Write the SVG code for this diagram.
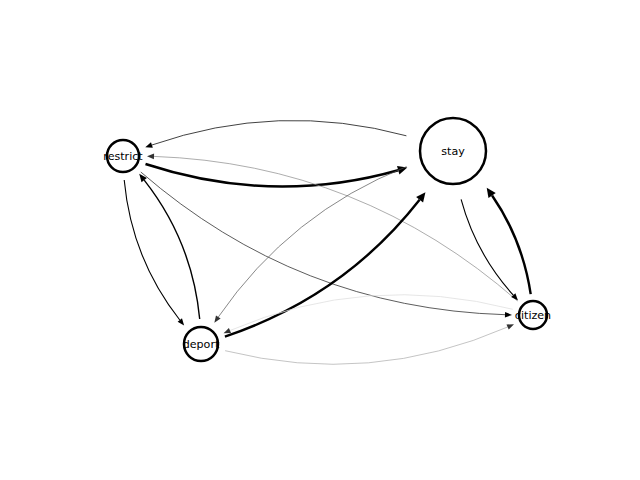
<svg xmlns="http://www.w3.org/2000/svg" width="640" height="480" viewBox="0 0 640 480">
  <style>
    .edge { fill: none; }
    .node circle { fill: #fff; stroke: #000; stroke-width: 2.5; }
    .node text { font-family: "DejaVu Sans", "Liberation Sans", sans-serif; font-size: 11.1px; fill: #000; text-anchor: middle; dominant-baseline: central; }
  </style>
  <defs>
    <!-- arrowheads: origin at the head's base, tip pointing along +x -->
    <marker id="head-thin" markerUnits="userSpaceOnUse" markerWidth="20" markerHeight="20" refX="0" refY="0" orient="auto" overflow="visible">
      <path d="M0,-2.8 L7,0 L0,2.8 z" fill="#000"/>
    </marker>
    <marker id="head-thin-dark" markerUnits="userSpaceOnUse" markerWidth="20" markerHeight="20" refX="0" refY="0" orient="auto" overflow="visible">
      <path d="M0,-2.8 L7,0 L0,2.8 z" fill="#333"/>
    </marker>
    <marker id="head-mid" markerUnits="userSpaceOnUse" markerWidth="20" markerHeight="20" refX="0" refY="0" orient="auto" overflow="visible">
      <path d="M0,-3.4 L8,0 L0,3.4 z" fill="#000"/>
    </marker>
    <marker id="head-thick" markerUnits="userSpaceOnUse" markerWidth="20" markerHeight="20" refX="0" refY="0" orient="auto" overflow="visible">
      <path d="M0,-4.4 L9.5,0 L0,4.4 z" fill="#000"/>
    </marker>
  </defs>

  <g id="connectors">
    <!-- restrict -> stay -->
    <path class="edge" d="M145.5,164 Q272.4,205.7 398.2,170.2" stroke="#000" stroke-width="2.6" marker-end="url(#head-thick)"/>
    <!-- stay -> restrict -->
    <path class="edge" d="M406.4,135.8 Q278.5,101.1 151.9,145.0" stroke="#111" stroke-width="0.8" marker-end="url(#head-thin)"/>
    <!-- citizen -> restrict -->
    <path class="edge" d="M517.4,300.9 Q360.9,163.8 154.0,156.4" stroke="#8a8a8a" stroke-width="0.7" marker-end="url(#head-thin-dark)"/>
    <!-- restrict -> citizen -->
    <path class="edge" d="M140.8,172.0 Q297.8,308.2 505.0,314.7" stroke="#333" stroke-width="0.8" marker-end="url(#head-thin)"/>
    <!-- restrict -> deport -->
    <path class="edge" d="M124.2,180.0 Q131.5,258.5 179.8,320.0" stroke="#000" stroke-width="1.1" marker-end="url(#head-thin)"/>
    <!-- deport -> restrict -->
    <path class="edge" d="M199.7,319.0 Q192.2,241.1 144.2,180.1" stroke="#000" stroke-width="1.4" marker-end="url(#head-mid)"/>
    <!-- stay -> deport -->
    <path class="edge" d="M406.6,166.6 Q290.2,212.8 218.3,317.0" stroke="#555" stroke-width="0.7" marker-end="url(#head-thin-dark)"/>
    <!-- deport -> stay -->
    <path class="edge" d="M224.9,336.6 Q343.9,296.5 419.6,199.8" stroke="#000" stroke-width="2.4" marker-end="url(#head-thick)"/>
    <!-- citizen -> deport -->
    <path class="edge" d="M512.8,309.3 Q367.2,271.9 230.0,330.5" stroke="#e0e0e0" stroke-width="0.8" marker-end="url(#head-thin-dark)"/>
    <!-- deport -> citizen -->
    <path class="edge" d="M225.1,350.7 Q370.6,386.8 507.6,327.0" stroke="#aaa" stroke-width="0.7" marker-end="url(#head-thin-dark)"/>
    <!-- stay -> citizen -->
    <path class="edge" d="M461.1,199.4 Q475.5,253.0 513.3,295.2" stroke="#000" stroke-width="1.1" marker-end="url(#head-thin)"/>
    <!-- citizen -> stay -->
    <path class="edge" d="M530.7,294.1 Q522.4,239.4 492.1,195.5" stroke="#000" stroke-width="2.4" marker-end="url(#head-thick)"/>
  </g>

  <g id="node-restrict" class="node">
    <circle cx="123" cy="156" r="16"/>
    <text x="123" y="156">restrict</text>
  </g>
  <g id="node-stay" class="node">
    <circle cx="453" cy="151" r="33"/>
    <text x="453" y="151">stay</text>
  </g>
  <g id="node-deport" class="node">
    <circle cx="201" cy="344" r="17"/>
    <text x="201" y="344">deport</text>
  </g>
  <g id="node-citizen" class="node">
    <circle cx="533" cy="315" r="14"/>
    <text x="533" y="315">citizen</text>
  </g>
</svg>
